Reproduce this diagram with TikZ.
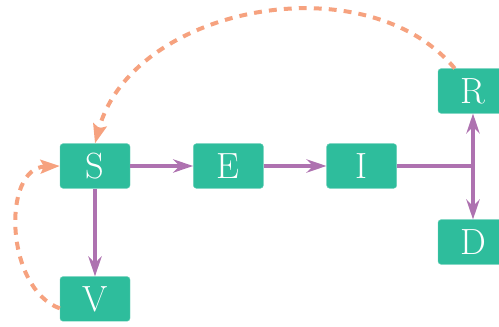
\documentclass[tikz,border=0pt]{standalone}
\usepackage{xcolor}
\usetikzlibrary{positioning}
\usetikzlibrary{arrows.meta}

\definecolor{boxgreen}{HTML}{2EBD9C}
\definecolor{flowpurple}{HTML}{AE72B0}
\definecolor{backorange}{HTML}{F6A27F}

\begin{document}
\begin{tikzpicture}
		[compartment/.style={fill=boxgreen, draw=boxgreen!70!white, line width=0.3pt,
			rounded corners=0.07cm, minimum width=1.68cm, minimum height=1.07cm,
			text=white, font=\Huge, inner sep=0pt},
		flow/.style={flowpurple, line width=0.096cm},
		flow tip/.style={-{Stealth[length=0.48cm, width=0.32cm, inset=0.16cm]}},
		feedback/.style={backorange, line width=0.096cm, dash pattern=on 0.19cm off 0.17cm,
			-{Stealth[length=0.46cm, width=0.33cm, inset=0.08cm]}}]
		
		\useasboundingbox (0,0) rectangle (11.976,7.848);
		\clip (0,0) rectangle (11.976,7.848);
		
		% compartments
		\node[compartment] (S) at (2.28,3.864) {S};
		\node[compartment, right=1.51cm of S] (E) {E};
		\node[compartment, right=1.51cm of E] (I) {I};
		\node[compartment, below=2.11cm of S] (V) {V};
		\node[compartment] (R) at (11.352,5.664) {R};
		\node[compartment] (D) at (11.352,2.04) {D};
		
		% split point of the outflow of I
		\coordinate (J) at (R |- I);
		
		\draw[flow, flow tip] (S) -- (E);
		\draw[flow, flow tip] (E) -- (I);
		\draw[flow, flow tip] (S) -- (V);
		\draw[flow] (I.east) -- ([xshift=0.048cm]J);
		\draw[flow, flow tip] (J) -- (R);
		\draw[flow, flow tip] (J) -- (D);
		
		% loss of immunity
		\draw[feedback] (R.129) to[out=130, in=75, looseness=0.98] (S.north);
		\draw[feedback] (V.195) to[out=160, in=182, looseness=1.05] (S.west);

	\end{tikzpicture}
\end{document}
